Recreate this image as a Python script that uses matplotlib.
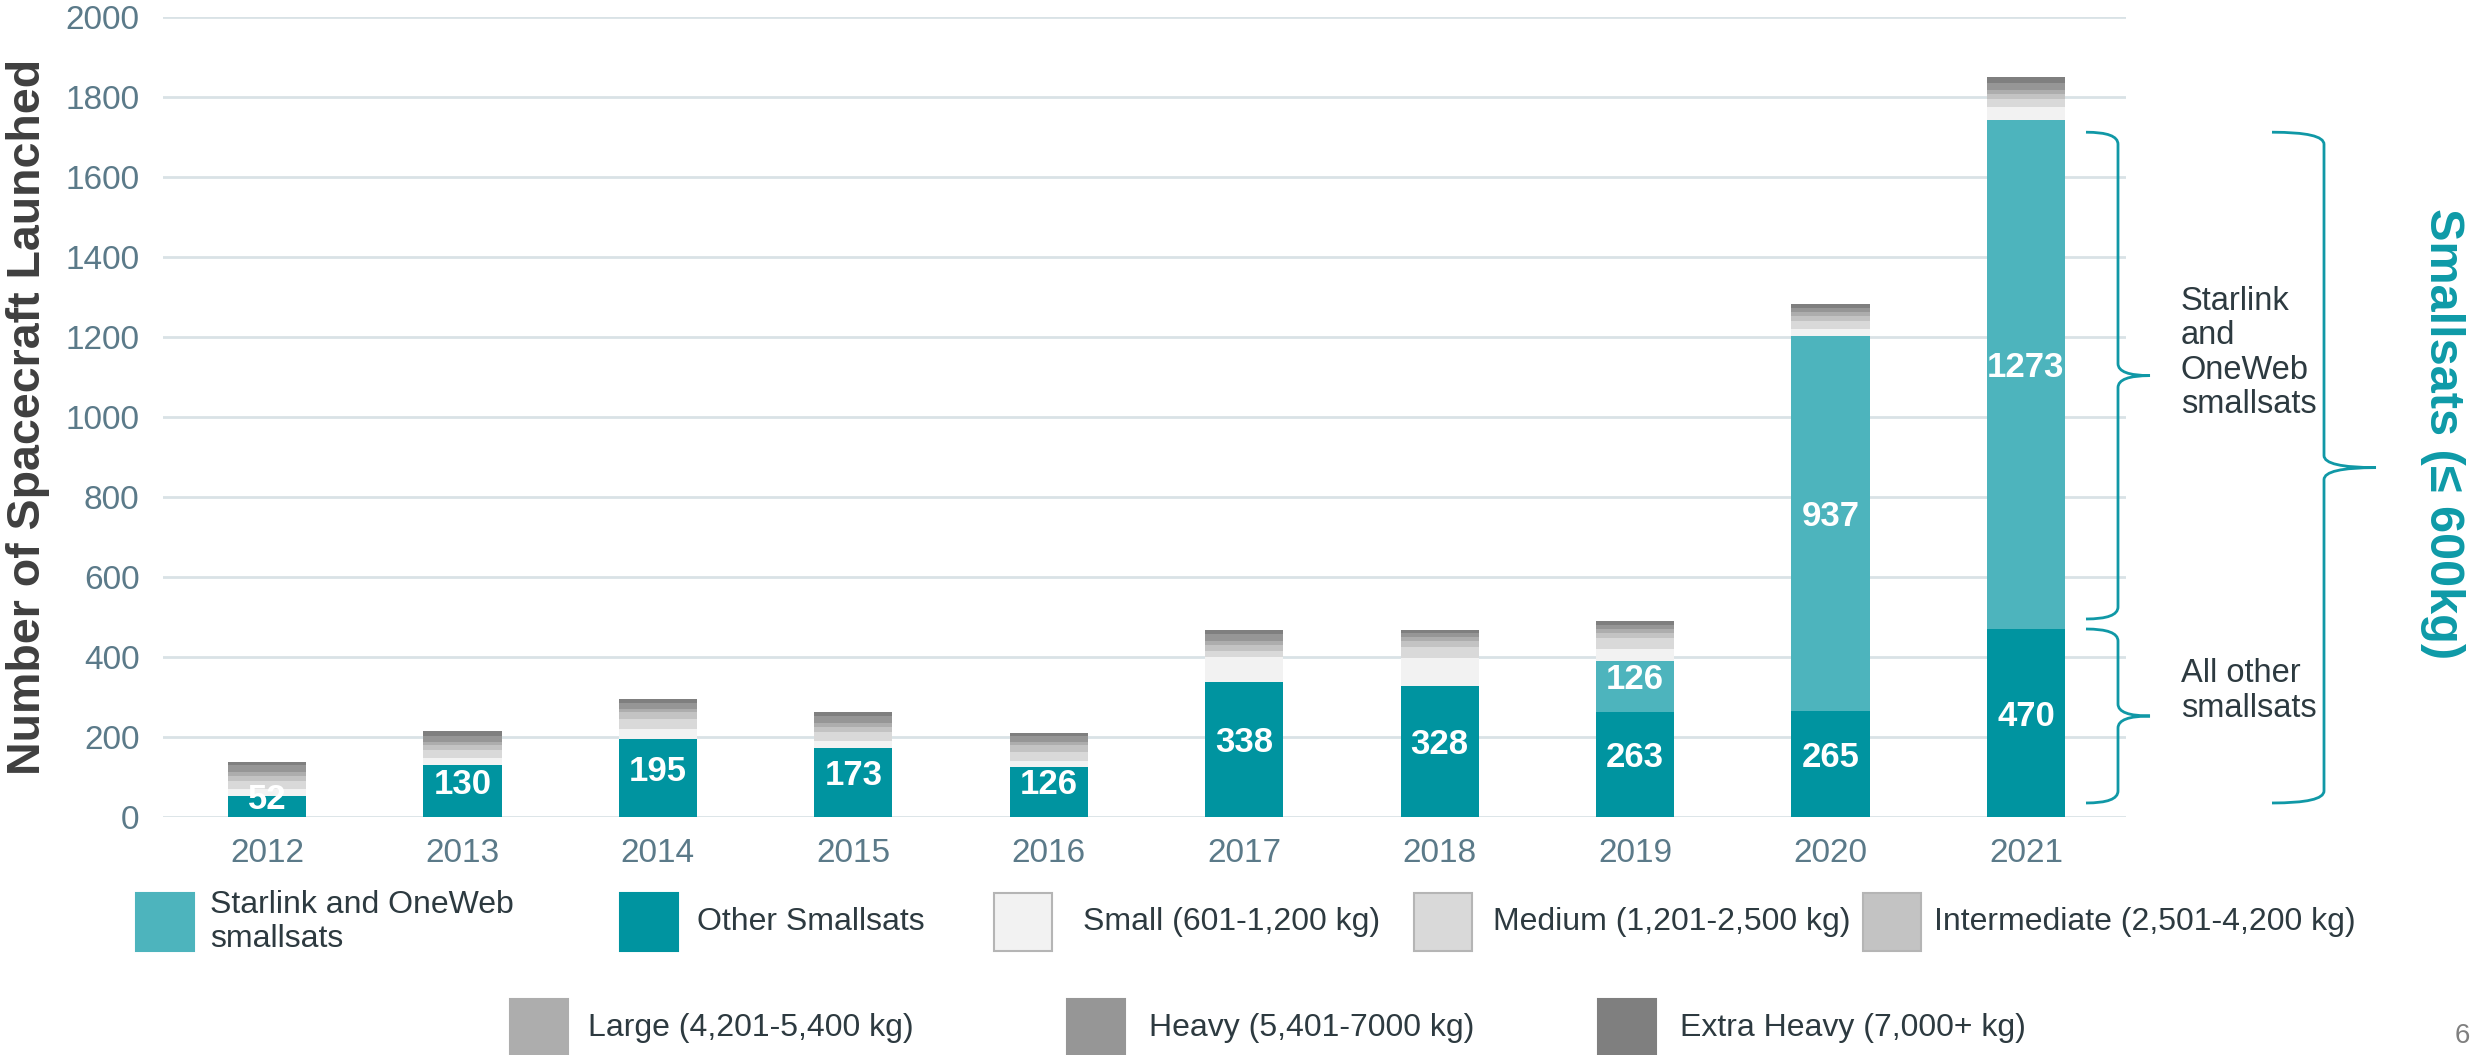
import numpy as np
import matplotlib
matplotlib.use('Agg')
from matplotlib import pyplot as plt
from matplotlib.patches import Rectangle, PathPatch
from matplotlib.path import Path
import matplotlib.transforms as mtransforms

plt.rcParams['font.family'] = ['Liberation Sans', 'DejaVu Sans']

years = ['2012', '2013', '2014', '2015', '2016', '2017', '2018', '2019', '2020', '2021']
other = [52, 130, 195, 173, 126, 338, 328, 263, 265, 470]
starlink = [0, 0, 0, 0, 0, 0, 0, 126, 937, 1273]
small = [17, 17, 24, 18, 14, 61, 69, 32, 17, 33]
medium = [21, 20, 25, 22, 22, 15, 27, 26, 22, 19]
intermediate = [12, 12, 19, 12, 18, 17, 15, 13, 12, 13]
large = [10, 9, 8, 10, 8, 10, 10, 10, 10, 10]
heavy = [17, 14, 14, 17, 14, 17, 10, 11, 10, 17]
extra_heavy = [9, 12, 9, 10, 9, 10, 9, 9, 10, 14]

series = [
    ('Other Smallsats', other, '#0094A0'),
    ('Starlink and OneWeb\nsmallsats', starlink, '#4DB4BD'),
    ('Small (601-1,200 kg)', small, '#F2F2F2'),
    ('Medium (1,201-2,500 kg)', medium, '#D9D9D9'),
    ('Intermediate (2,501-4,200 kg)', intermediate, '#C3C3C3'),
    ('Large (4,201-5,400 kg)', large, '#ADADAD'),
    ('Heavy (5,401-7000 kg)', heavy, '#969696'),
    ('Extra Heavy (7,000+ kg)', extra_heavy, '#7F7F7F'),
]

W, H = 2478, 1055
fig = plt.figure(figsize=(W / 100, H / 100), dpi=100)
ax = fig.add_axes([163 / W, 1 - 817 / H, (2126 - 163) / W, 800 / H])

x = np.arange(len(years))
bottom = np.zeros(len(years))
bars = {}
for name, vals, col in series:
    b = ax.bar(x, vals, 0.40, bottom=bottom, color=col, linewidth=0, zorder=3)
    bars[name] = (b, np.array(vals), bottom.copy())
    bottom += np.array(vals)

# value labels on the smallsat segments
for key in ['Other Smallsats', 'Starlink and OneWeb\nsmallsats']:
    b, vals, bot = bars[key]
    for i in range(len(years)):
        if vals[i] <= 0:
            continue
        ax.annotate(str(vals[i]), (x[i], bot[i] + vals[i] / 2), xytext=(0, 5),
                    textcoords='offset points', ha='center', va='center',
                    color='white', fontsize=25, fontweight='bold', zorder=5)

ax.set_xlim(-0.532, 9.512)
ax.set_ylim(0, 2000)
ax.set_yticks(np.arange(0, 2001, 200))
ax.set_xticks(x)
ax.set_xticklabels(years)
ax.grid(axis='y', color='#D9E2E6', linewidth=2, zorder=0)
for s in ax.spines.values():
    s.set_visible(False)
ax.tick_params(axis='both', length=0, labelsize=24, labelcolor='#5B7A89')
ax.tick_params(axis='x', pad=15)
ax.tick_params(axis='y', pad=17)

fig.text(28 / W, 1 - 417 / H, 'Number of Spacecraft Launched', rotation=90,
         ha='center', va='center', fontsize=33.5, fontweight='bold', color='#3F3F3F')

# braces
tr = mtransforms.blended_transform_factory(fig.transFigure, ax.transData)
brace_col = '#1098A6'


def brace(xt, xs, xp, y0, y1, c=30):
    ym = (y0 + y1) / 2
    verts = [(xt, y0), (xs, y0), (xs, y0 + c),
             (xs, ym - c), (xs, ym), (xp, ym),
             (xs, ym), (xs, ym + c),
             (xs, y1 - c), (xs, y1), (xt, y1)]
    codes = [Path.MOVETO, Path.CURVE3, Path.CURVE3,
             Path.LINETO, Path.CURVE3, Path.CURVE3,
             Path.CURVE3, Path.CURVE3,
             Path.LINETO, Path.CURVE3, Path.CURVE3]
    p = PathPatch(Path(verts, codes), transform=tr, fill=False,
                  edgecolor=brace_col, linewidth=2, clip_on=False, zorder=6)
    fig.add_artist(p)


brace(2086 / W, 2118 / W, 2150 / W, 495, 1712)
brace(2086 / W, 2118 / W, 2150 / W, 35, 470)
brace(2272 / W, 2324 / W, 2376 / W, 35, 1712)

fig.text(2181 / W, 1 - 353 / H, 'Starlink\nand\nOneWeb\nsmallsats', ha='left', va='center',
         fontsize=23.5, color='#2D3A40', linespacing=1.15)
fig.text(2181 / W, 1 - 691 / H, 'All other\nsmallsats', ha='left', va='center',
         fontsize=23.5, color='#2D3A40', linespacing=1.15)
fig.text(2442 / W, 1 - 434 / H, 'Smallsats (≤ 600kg)', rotation=-90, ha='center', va='center',
         fontsize=35, fontweight='bold', color='#0E9AA7')

# legend
legend_pos = {
    'Starlink and OneWeb\nsmallsats': (136, 893, 210),
    'Other Smallsats': (620, 893, 697),
    'Small (601-1,200 kg)': (994, 893, 1083),
    'Medium (1,201-2,500 kg)': (1414, 893, 1493),
    'Intermediate (2,501-4,200 kg)': (1863, 893, 1934),
    'Large (4,201-5,400 kg)': (510, 999, 588),
    'Heavy (5,401-7000 kg)': (1067, 999, 1149),
    'Extra Heavy (7,000+ kg)': (1598, 999, 1680),
}
for name, vals, col in series:
    px, py, tx = legend_pos[name]
    edge = '#B5B5B5' if name.startswith(('Small', 'Medium', 'Intermediate')) else col
    fig.add_artist(Rectangle((px / W, 1 - (py + 58) / H), 58 / W, 58 / H,
                             transform=fig.transFigure, facecolor=col, edgecolor=edge,
                             linewidth=1.5))
    fig.text(tx / W, 1 - (py + 29) / H, name, ha='left', va='center', fontsize=23,
             color='#2D3A40', linespacing=1.15)

fig.text(2462 / W, 1 - 1036 / H, '6', ha='center', va='center', fontsize=20, color='#7F7F7F')

fig.savefig('out.png', dpi=100)
